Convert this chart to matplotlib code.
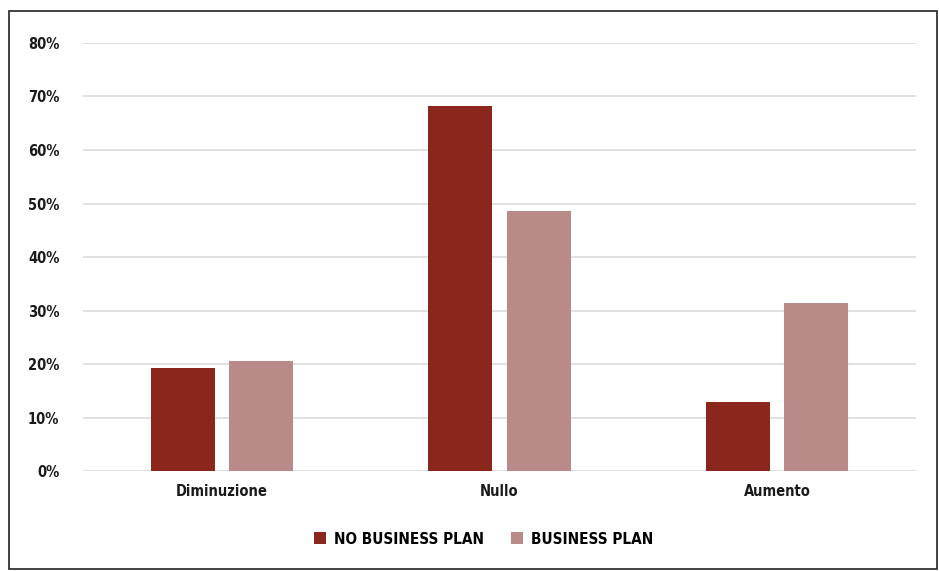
import numpy as np
import matplotlib.pyplot as plt
from matplotlib.patches import Rectangle
from matplotlib.ticker import PercentFormatter

categories = ["Diminuzione", "Nullo", "Aumento"]
no_business_plan = [19.3, 68.2, 12.9]
business_plan = [20.6, 48.6, 31.4]
series_labels = ["NO BUSINESS PLAN", "BUSINESS PLAN"]

DARK = "#8a261b"
LIGHT = "#b98a87"

plt.rcParams["font.family"] = ["DejaVu Sans"]
plt.rcParams["font.stretch"] = "condensed"

fig = plt.figure(figsize=(9.39, 5.71), dpi=100)
ax = fig.add_axes([0.0884, 0.1751, 0.8871, 0.7496])

x = np.arange(len(categories))
width = 0.231
offset = 0.141
ax.bar(x - offset, no_business_plan, width, color=DARK, label=series_labels[0], zorder=3)
ax.bar(x + offset, business_plan, width, color=LIGHT, label=series_labels[1], zorder=3)

ax.set_xlim(-0.5, 2.5)
ax.set_ylim(0, 80)
ax.set_yticks(np.arange(0, 81, 10))
ax.yaxis.set_major_formatter(PercentFormatter(decimals=0))
ax.grid(axis="y", color="#d9d9d9", linewidth=1.1, zorder=0)
ax.set_xticks(x)
ax.set_xticklabels(categories)
ax.tick_params(axis="both", length=0, labelsize=10.5, colors="#1a1a1a")
ax.tick_params(axis="y", pad=17)
ax.tick_params(axis="x", pad=9)
for lbl in ax.get_xticklabels() + ax.get_yticklabels():
    lbl.set_fontweight("semibold")
for s in ax.spines.values():
    s.set_visible(False)

leg = fig.legend(loc="center", bbox_to_anchor=(0.515, 0.056), ncol=2, frameon=False,
                 handlelength=0.8, handleheight=0.8, handletextpad=0.5, columnspacing=1.8,
                 prop={"size": 11, "weight": "semibold", "stretch": "condensed"})

fig.patches.append(Rectangle((9 / 939, 2 / 571), 928 / 939, 558 / 571, transform=fig.transFigure,
                             fill=False, edgecolor="#222222", linewidth=1.2))

fig.savefig("out.png", dpi=100)
